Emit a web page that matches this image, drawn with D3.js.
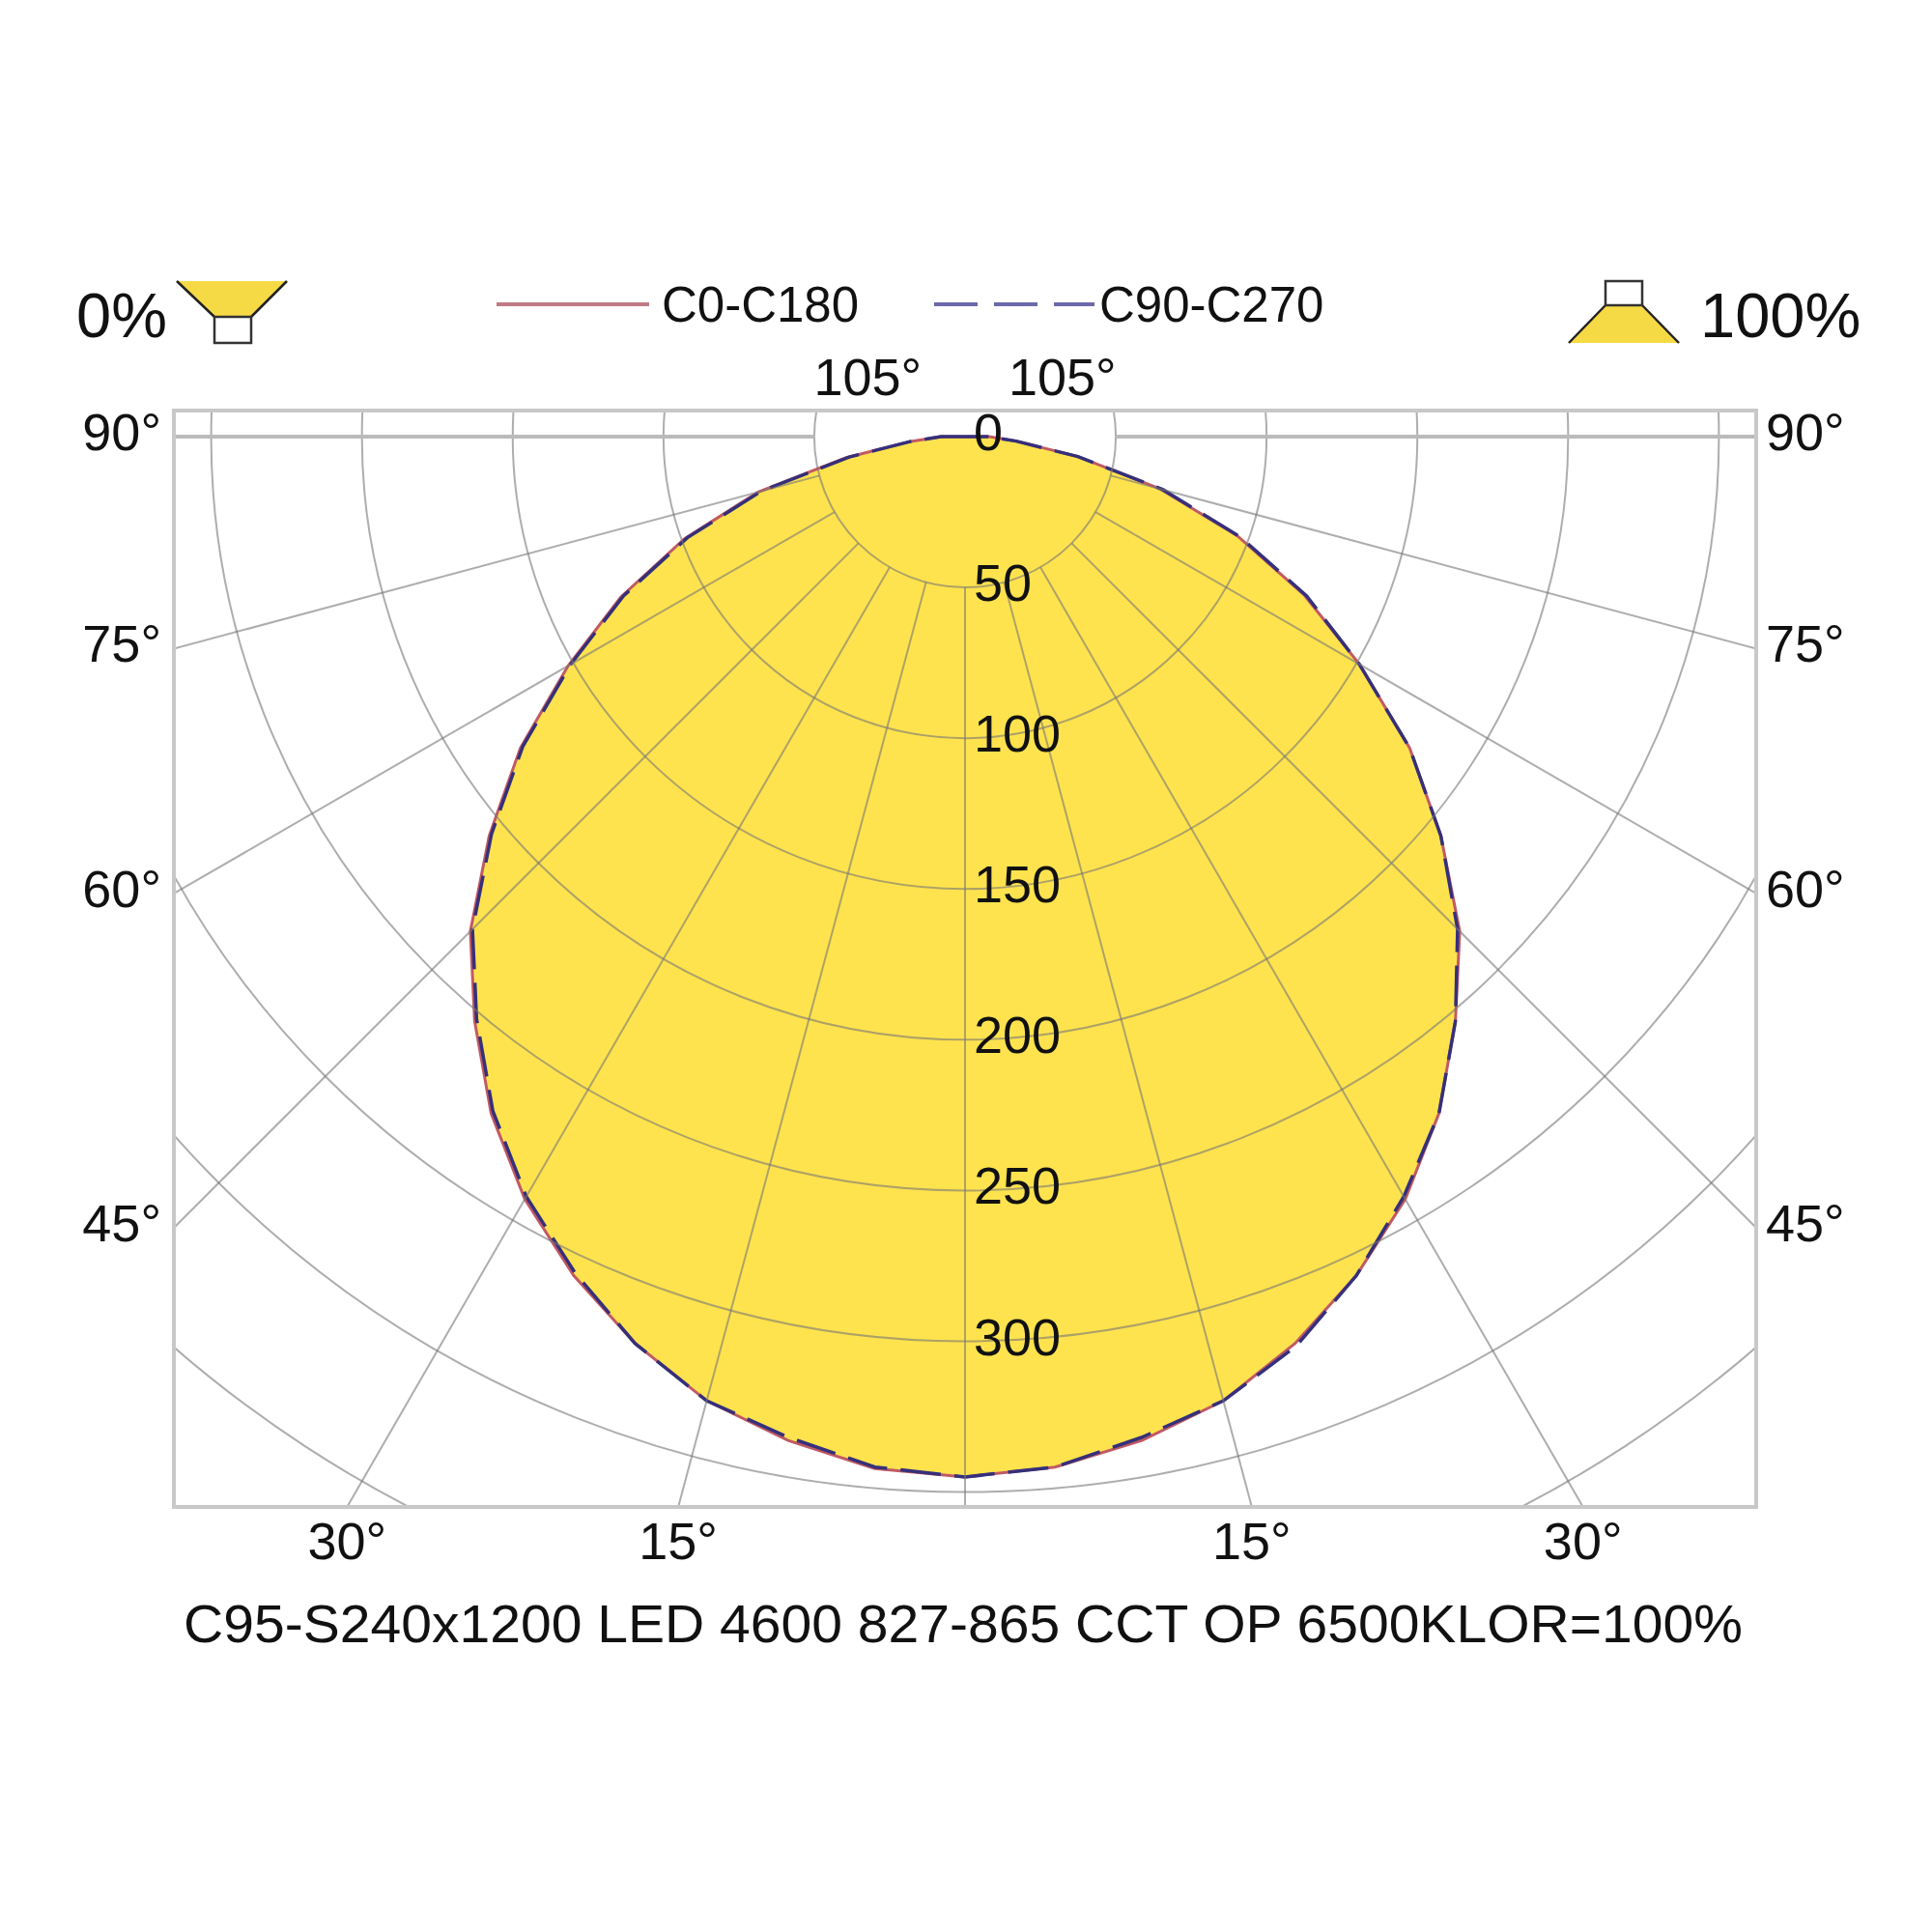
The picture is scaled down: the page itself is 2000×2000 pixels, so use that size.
<!DOCTYPE html>
<html>
<head>
<meta charset="utf-8">
<script src="https://cdn.jsdelivr.net/npm/d3@7"></script>
<style>
  body { margin: 0; background: #fff; }
  text { font-family: "Liberation Sans", Arial, sans-serif; fill: #111; }
</style>
</head>
<body>
<script>
// gamma angles (deg from nadir) and luminous intensity (cd/klm)
const gammaAngles = [0, 5, 10, 15, 20, 25, 30, 35, 40, 45, 50, 55, 60, 65, 70, 75, 80, 85, 90];
const c0   = [345, 343, 338, 331, 320, 307, 292, 274, 253, 232, 206, 180, 151, 124, 96, 67, 38, 17, 8];
const c180 = [345, 343.5, 338, 331, 320, 307, 292, 274, 253, 232, 206, 180, 152, 126, 99, 71, 40, 18, 8];
const c90  = [345, 343, 337, 331, 321, 307, 291, 274, 253, 231, 206, 180, 151, 125, 97, 68, 38, 17, 8];
const c270 = [345, 343, 337, 331, 320, 306, 291, 273, 252, 231, 205, 179, 151, 125, 98, 70, 39, 18, 8];

const radialTicks = [0, 50, 100, 150, 200, 250, 300];
const gridRings = [50, 100, 150, 200, 250, 300, 350, 400, 450];
const gridAngles = [0, 15, 30, 45, 60, 75, 90, 105];
const angleLabels = [15, 30, 45, 60, 75, 90, 105];
const legendNames = ["C0-C180", "C90-C270"];
const leftPct = "0%";
const rightPct = "100%";
const title = "C95-S240x1200 LED 4600 827-865 CCT OP 6500KLOR=100%";

const W = 2000, H = 2000;
const cx = 999, cy = 452;
const box = { x0: 180, x1: 1818, y0: 425, y1: 1560 };
const r = d3.scaleLinear().domain([0, 300]).range([0, 936.5]);
const rad = d => d * Math.PI / 180;

const svg = d3.select("body").append("svg")
  .attr("width", W).attr("height", H);

svg.append("defs").append("clipPath").attr("id", "boxclip")
  .append("rect")
  .attr("x", box.x0).attr("y", box.y0)
  .attr("width", box.x1 - box.x0).attr("height", box.y1 - box.y0);

// build one closed curve: C180 side (left) from 90 to 0, then C0 side (right) from 0 to 90
function halfPoints(left, right) {
  const pts = [{ a: -90, v: 0 }];
  for (let i = gammaAngles.length - 1; i >= 0; i--) pts.push({ a: -gammaAngles[i], v: left[i] });
  for (let i = 0; i < gammaAngles.length; i++) pts.push({ a: gammaAngles[i], v: right[i] });
  pts.push({ a: 90, v: 0 });
  return pts;
}

const radial = d3.lineRadial()
  .angle(d => Math.PI - rad(d.a))
  .radius(d => r(d.v));

const plot = svg.append("g").attr("transform", `translate(${cx},${cy})`);

// fill
plot.append("path")
  .attr("d", radial(halfPoints(c180, c0)) + "Z")
  .attr("fill", "#ffe34e")
  .attr("stroke", "none");

// grid
const grid = svg.append("g").attr("clip-path", "url(#boxclip)");
grid.selectAll("circle.ring").data(gridRings).join("circle")
  .attr("class", "ring")
  .attr("cx", cx).attr("cy", cy)
  .attr("r", d => r(d))
  .attr("fill", "none")
  .attr("stroke", "#777").attr("stroke-opacity", 0.6)
  .attr("stroke-width", 2);

const rays = [];
gridAngles.forEach(a => { rays.push(a); if (a !== 0) rays.push(-a); });
grid.selectAll("line.ray").data(rays).join("line")
  .attr("class", "ray")
  .attr("x1", d => cx + r(50) * Math.sin(rad(d)))
  .attr("y1", d => cy + r(50) * Math.cos(rad(d)))
  .attr("x2", d => cx + r(700) * Math.sin(rad(d)))
  .attr("y2", d => cy + r(700) * Math.cos(rad(d)))
  .attr("stroke", d => Math.abs(d) === 90 ? "#bbb" : "#777")
  .attr("stroke-opacity", d => Math.abs(d) === 90 ? 1 : 0.6)
  .attr("stroke-width", d => Math.abs(d) === 90 ? 4 : 2);

// curves
plot.append("path")
  .attr("d", radial(halfPoints(c180, c0)))
  .attr("fill", "none")
  .attr("stroke", "#c05a64")
  .attr("stroke-width", 3);

plot.append("path")
  .attr("d", radial(halfPoints(c270, c90)))
  .attr("fill", "none")
  .attr("stroke", "#35307a")
  .attr("stroke-width", 3.5)
  .attr("stroke-dasharray", "42,14");

// frame
svg.append("rect")
  .attr("x", box.x0).attr("y", box.y0)
  .attr("width", box.x1 - box.x0).attr("height", box.y1 - box.y0)
  .attr("fill", "none")
  .attr("stroke", "#c8c8c8")
  .attr("stroke-width", 4);

// intensity labels along nadir
svg.selectAll("text.rt").data(radialTicks).join("text")
  .attr("class", "rt")
  .attr("x", cx + 9)
  .attr("y", d => cy + r(d) - 5)
  .attr("dominant-baseline", "central")
  .attr("font-size", 54)
  .text(d => d);

// angle labels where the rays meet the frame
function hit(a) {
  const s = Math.sin(rad(Math.abs(a))), c = Math.cos(rad(Math.abs(a)));
  const side = a < 0 ? -1 : 1;
  const halfW = box.x1 - cx;
  const tSide = halfW / s;
  const tBottom = c > 0 ? (box.y1 - cy) / c : Infinity;
  const tTop = c < 0 ? (box.y0 - cy) / c : Infinity;
  const t = Math.min(tSide, tBottom, tTop);
  return { x: cx + side * t * s, y: cy + t * c, edge: t === tSide ? "side" : (t === tBottom ? "bottom" : "top") };
}

const labelData = [];
angleLabels.forEach(a => { labelData.push(-a); labelData.push(a); });
svg.selectAll("text.al").data(labelData).join("text")
  .attr("class", "al")
  .attr("font-size", 54)
  .each(function(d) {
    const h = hit(d);
    const t = d3.select(this);
    if (h.edge === "side") {
      t.attr("x", d < 0 ? box.x0 - 13 : box.x1 + 10)
       .attr("y", h.y - 5)
       .attr("dominant-baseline", "central")
       .attr("text-anchor", d < 0 ? "end" : "start");
    } else if (h.edge === "bottom") {
      t.attr("x", h.x).attr("y", 1614).attr("text-anchor", "middle");
    } else {
      t.attr("x", h.x).attr("y", 409).attr("text-anchor", "middle");
    }
  })
  .text(d => Math.abs(d) + "°");

// legend
const legY = 315;
svg.append("line")
  .attr("x1", 514).attr("x2", 672).attr("y1", legY).attr("y2", legY)
  .attr("stroke", "#c07a86").attr("stroke-width", 4);
svg.append("text").attr("x", 685).attr("y", legY + 18)
  .attr("font-size", 51).text(legendNames[0]);
svg.append("line")
  .attr("x1", 967).attr("x2", 1133).attr("y1", legY).attr("y2", legY)
  .attr("stroke", "#6c68aa").attr("stroke-width", 4)
  .attr("stroke-dasharray", "45,17");
svg.append("text").attr("x", 1138).attr("y", legY + 18)
  .attr("font-size", 51).text(legendNames[1]);

// downlight / uplight share icons
svg.append("text").attr("x", 79).attr("y", 349).attr("font-size", 65).text(leftPct);
svg.append("text").attr("x", 1760).attr("y", 349).attr("font-size", 65).text(rightPct);

const icons = svg.append("g");
icons.append("polygon")
  .attr("points", "183,291 297,291 260,328 222,328")
  .attr("fill", "#f6da45").attr("stroke", "none");
icons.append("path")
  .attr("d", "M183,291 L222,328 M297,291 L260,328")
  .attr("stroke", "#222").attr("stroke-width", 2.5).attr("fill", "none");
icons.append("rect")
  .attr("x", 222).attr("y", 328).attr("width", 38).attr("height", 27)
  .attr("fill", "#fff").attr("stroke", "#333").attr("stroke-width", 2.5);

icons.append("polygon")
  .attr("points", "1662,316 1700,316 1738,355 1624,355")
  .attr("fill", "#f6da45").attr("stroke", "none");
icons.append("path")
  .attr("d", "M1662,316 L1624,355 M1700,316 L1738,355")
  .attr("stroke", "#222").attr("stroke-width", 2.5).attr("fill", "none");
icons.append("rect")
  .attr("x", 1662).attr("y", 291).attr("width", 38).attr("height", 25)
  .attr("fill", "#fff").attr("stroke", "#333").attr("stroke-width", 2.5);

// title
svg.append("text")
  .attr("x", 997).attr("y", 1700)
  .attr("text-anchor", "middle")
  .attr("font-size", 55)
  .attr("textLength", 1614)
  .attr("lengthAdjust", "spacingAndGlyphs")
  .text(title);
</script>
</body>
</html>
